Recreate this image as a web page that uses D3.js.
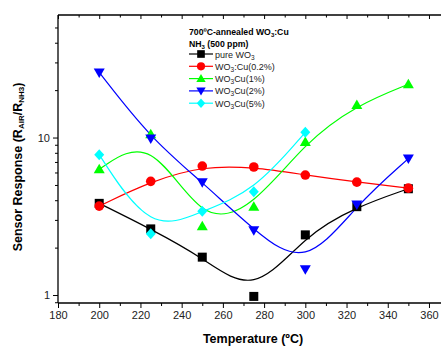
<!DOCTYPE html>
<html>
<head>
<meta charset="utf-8">
<script src="https://cdn.jsdelivr.net/npm/d3@7"></script>
<style>
  body { margin: 0; background: #fff; }
  text { font-family: "Liberation Sans", Arial, sans-serif; }
</style>
</head>
<body>
<div id="chart"></div>
<script>
var svgWidth = 441;
var svgHeight = 347;

// temperatures (ºC)
var temps = [200, 225, 250, 275, 300, 325, 350];

// sensor response
var pureWO3 = [3.82, 2.63, 1.74, 0.98, 2.41, 3.64, 4.73];
var cu02 = [3.67, 5.27, 6.59, 6.50, 5.78, 5.21, 4.77];
var cu1 = [6.28, 10.5, 2.73, 3.64, 9.37, 16.1, 21.8];
var cu2 = [25.9, 9.85, 5.21, 2.58, 1.46, 3.76, 7.35];
var cu5 = [7.79, 2.45, 3.41, 4.53, 10.8];

var xTicks = [180, 200, 220, 240, 260, 280, 300, 320, 340, 360];
var yTicks = [1, 10];

var series = [
  { name: ["pure WO", "3", ""], values: pureWO3, color: "#000000", symbol: "square" },
  { name: ["WO", "3", ":Cu(0.2%)"], values: cu02, color: "#ff0000", symbol: "circle" },
  { name: ["WO", "3", "Cu(1%)"], values: cu1, color: "#00ff00", symbol: "up" },
  { name: ["WO", "3", "Cu(2%)"], values: cu2, color: "#0000ff", symbol: "down" },
  { name: ["WO", "3", "Cu(5%)"], values: cu5, color: "#00ffff", symbol: "diamond" }
];

var svg = d3.select("#chart")
  .append("svg")
  .attr("width", svgWidth)
  .attr("height", svgHeight);

var x = d3.scaleLinear().domain([180, 367]).range([58, 443.4]);
var y = d3.scaleLog().domain([0.89, 60]).range([303, 15]);

// draw a marker shape at (0,0)
function marker(g, symbol, color) {
  if (symbol === "square") {
    g.append("rect").attr("x", -4.5).attr("y", -4.5).attr("width", 9).attr("height", 9).attr("fill", color);
  } else if (symbol === "circle") {
    g.append("circle").attr("r", 4.8).attr("fill", color);
  } else if (symbol === "up") {
    g.append("path").attr("d", "M0,-5.5L5.5,4L-5.5,4Z").attr("fill", color);
  } else if (symbol === "down") {
    g.append("path").attr("d", "M0,5.5L5.5,-4L-5.5,-4Z").attr("fill", color);
  } else {
    g.append("path").attr("d", "M0,-5.5L5,0L0,5.5L-5,0Z").attr("fill", color);
  }
}

var line = d3.line()
  .x((d, i) => x(temps[i]))
  .y(d => y(d))
  .curve(d3.curveBasis);

// curves and points
series.forEach(function(s) {
  svg.append("path")
    .attr("d", line(s.values))
    .attr("fill", "none")
    .attr("stroke", s.color)
    .attr("stroke-width", 1.2);
});
series.forEach(function(s) {
  s.values.forEach(function(v, i) {
    var g = svg.append("g").attr("transform", `translate(${x(temps[i])},${y(v)})`);
    marker(g, s.symbol, s.color);
  });
});

// frame
svg.append("line").attr("x1", 58).attr("x2", 441).attr("y1", 15).attr("y2", 15).attr("stroke", "#000").attr("stroke-width", 1.3);

// x axis
var xMinor = d3.range(190, 367, 20);
var bottomAxis = d3.axisBottom(x).tickValues(xTicks).tickSize(5).tickFormat(d3.format("d"));
var xAxis = svg.append("g").attr("transform", "translate(0,303)").call(bottomAxis);
xAxis.select(".domain").attr("d", "M58,0H441").attr("stroke-width", 1.3);
xAxis.selectAll("text").attr("font-size", 11).attr("fill", "#222");
svg.append("g").attr("transform", "translate(0,303)")
  .call(d3.axisBottom(x).tickValues(xMinor).tickSize(3).tickFormat(""))
  .select(".domain").remove();

// top ticks (inward)
svg.append("g").attr("transform", "translate(0,15)")
  .call(d3.axisBottom(x).tickValues(xTicks).tickSize(4).tickFormat(""))
  .select(".domain").remove();
svg.append("g").attr("transform", "translate(0,15)")
  .call(d3.axisBottom(x).tickValues(xMinor).tickSize(2.5).tickFormat(""))
  .select(".domain").remove();

// y axis
var yMinor = [0.9, 2, 3, 4, 5, 6, 7, 8, 9, 20, 30, 40, 50];
var yAxis = svg.append("g").attr("transform", "translate(58,0)")
  .call(d3.axisLeft(y).tickValues(yTicks).tickSize(5).tickFormat(d3.format("d")));
yAxis.select(".domain").attr("d", "M0,15V303").attr("stroke-width", 1.3);
yAxis.selectAll("text").attr("font-size", 11).attr("fill", "#222");
svg.append("g").attr("transform", "translate(58,0)")
  .call(d3.axisLeft(y).tickValues(yMinor).tickSize(3).tickFormat(""))
  .select(".domain").remove();

// axis titles
svg.append("text")
  .attr("x", 253).attr("y", 343)
  .attr("text-anchor", "middle")
  .attr("font-size", 12.5).attr("font-weight", "bold")
  .text("Temperature (ºC)");

var yTitle = svg.append("text")
  .attr("transform", "translate(22,167) rotate(-90)")
  .attr("text-anchor", "middle")
  .attr("font-size", 12.5).attr("font-weight", "bold");
yTitle.append("tspan").text("Sensor Response (R");
yTitle.append("tspan").attr("font-size", 8).attr("baseline-shift", "-30%").text("AIR");
yTitle.append("tspan").text("/R");
yTitle.append("tspan").attr("font-size", 8).attr("baseline-shift", "-30%").text("NH3");
yTitle.append("tspan").text(")");

// legend
var legend = svg.append("g");
var t1 = legend.append("text").attr("x", 189).attr("y", 35).attr("font-size", 8.7).attr("font-weight", "bold");
t1.append("tspan").text("700ºC-annealed WO");
t1.append("tspan").attr("font-size", 6).attr("baseline-shift", "-30%").text("3");
t1.append("tspan").text(":Cu");
var t2 = legend.append("text").attr("x", 189).attr("y", 47).attr("font-size", 8.7).attr("font-weight", "bold");
t2.append("tspan").text("NH");
t2.append("tspan").attr("font-size", 6).attr("baseline-shift", "-30%").text("3");
t2.append("tspan").text(" (500 ppm)");

series.forEach(function(s, i) {
  var ly = 54 + i * 12.3;
  legend.append("line").attr("x1", 189).attr("x2", 213).attr("y1", ly).attr("y2", ly)
    .attr("stroke", s.color).attr("stroke-width", 1.2);
  var g = legend.append("g").attr("transform", `translate(201,${ly}) scale(0.85)`);
  marker(g, s.symbol, s.color);
  var t = legend.append("text").attr("x", 215).attr("y", ly + 3.5).attr("font-size", 9).attr("fill", "#222");
  t.append("tspan").text(s.name[0]);
  t.append("tspan").attr("font-size", 6.5).attr("baseline-shift", "-30%").text(s.name[1]);
  t.append("tspan").text(s.name[2]);
});
</script>
</body>
</html>
